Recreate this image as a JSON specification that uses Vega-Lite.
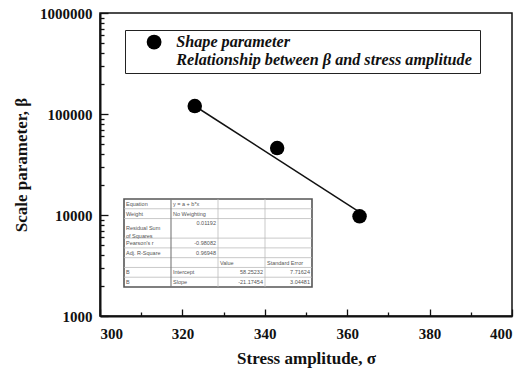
{
  "$schema": "https://vega.github.io/schema/vega-lite/v6.json",
  "width": 412,
  "height": 303,
  "autosize": "none",
  "padding": {"left": 100, "top": 13, "right": 14, "bottom": 52},
  "background": "white",
  "config": {
    "view": {"stroke": "#111", "strokeWidth": 1.5},
    "axis": {
      "grid": false,
      "domainColor": "#111",
      "domainWidth": 2,
      "tickColor": "#111",
      "tickWidth": 1.3,
      "labelFont": "Liberation Serif",
      "labelFontWeight": "bold",
      "labelFontSize": 15,
      "labelColor": "#111",
      "titleFont": "Liberation Serif",
      "titleFontWeight": "bold",
      "titleFontSize": 17,
      "titleColor": "#111"
    }
  },
  "datasets": {
    "obs": [
      {"sigma": 323, "beta": 120000, "series": "Shape parameter"},
      {"sigma": 343, "beta": 46000, "series": "Shape parameter"},
      {"sigma": 363, "beta": 9700, "series": "Shape parameter"}
    ],
    "fit": [
      {"sigma": 323, "beta": 120000},
      {"sigma": 363, "beta": 10700}
    ],
    "rowLines": [{"line": 1}, {"line": 2}, {"line": 4}, {"line": 5}, {"line": 6}, {"line": 7}, {"line": 8}],
    "colLines": [{"col": 2}, {"col": 3}],
    "keyLine": [{"col": 1}],
    "frame": [{"c0": 0, "c1": 4, "r0": 0, "r1": 9}],
    "tableLabels": [
      {"col": 0, "mid": 0.5, "label": "Equation"},
      {"col": 1, "mid": 0.5, "label": "y = a + b*x"},
      {"col": 0, "mid": 1.5, "label": "Weight"},
      {"col": 1, "mid": 1.5, "label": "No Weighting"},
      {"col": 0, "mid": 3, "label": "Residual Sum\nof Squares"},
      {"col": 0, "mid": 4.5, "label": "Pearson's r"},
      {"col": 0, "mid": 5.5, "label": "Adj. R-Square"},
      {"col": 2, "mid": 6.5, "label": "Value"},
      {"col": 3, "mid": 6.5, "label": "Standard Error"},
      {"col": 0, "mid": 7.5, "label": "B"},
      {"col": 1, "mid": 7.5, "label": "Intercept"},
      {"col": 0, "mid": 8.5, "label": "B"},
      {"col": 1, "mid": 8.5, "label": "Slope"}
    ],
    "tableNumbers": [
      {"col": 2, "mid": 2.5, "label": "0.01192"},
      {"col": 2, "mid": 4.5, "label": "-0.98082"},
      {"col": 2, "mid": 5.5, "label": "0.96948"},
      {"col": 3, "mid": 7.5, "label": "58.25232"},
      {"col": 4, "mid": 7.5, "label": "7.71624"},
      {"col": 3, "mid": 8.5, "label": "-21.17454"},
      {"col": 4, "mid": 8.5, "label": "3.04481"}
    ]
  },
  "layer": [
    {
      "layer": [
        {
          "data": {"name": "fit"},
          "mark": {"type": "line", "color": "#111", "strokeWidth": 1.5},
          "encoding": {
            "x": {
              "field": "sigma",
              "type": "quantitative",
              "scale": {"domain": [300, 400], "nice": false, "zero": false},
              "axis": {
                "values": [300, 310, 320, 330, 340, 350, 360, 370, 380, 390, 400],
                "labelExpr": "datum.value % 20 == 0 ? datum.label : ''",
                "tickSize": {"condition": {"test": "datum.value % 20 == 0", "value": -7}, "value": -4},
                "labelPadding": 17,
                "titlePadding": 9
              },
              "title": "Stress amplitude, σ"
            },
            "y": {
              "field": "beta",
              "type": "quantitative",
              "scale": {"type": "log", "domain": [1000, 1000000], "nice": false},
              "axis": {
                "values": [1000, 2000, 3000, 4000, 5000, 6000, 7000, 8000, 9000,
                           10000, 20000, 30000, 40000, 50000, 60000, 70000, 80000, 90000,
                           100000, 200000, 300000, 400000, 500000, 600000, 700000, 800000, 900000, 1000000],
                "format": "d",
                "labelExpr": "indexof([1000, 10000, 100000, 1000000], datum.value) >= 0 ? datum.label : ''",
                "tickSize": {"condition": {"test": "indexof([1000, 10000, 100000, 1000000], datum.value) >= 0", "value": -8}, "value": -4},
                "labelPadding": 16,
                "titlePadding": 9
              },
              "title": "Scale parameter, β"
            }
          }
        },
        {
          "data": {"name": "obs"},
          "mark": {"type": "point", "filled": true, "color": "#000", "opacity": 1, "size": 210},
          "encoding": {
            "x": {"field": "sigma", "type": "quantitative"},
            "y": {"field": "beta", "type": "quantitative"},
            "shape": {
              "field": "series",
              "type": "nominal",
              "scale": {
                "domain": ["Shape parameter", "Relationship between β  and stress amplitude"],
                "range": ["circle", "M0,0"]
              },
              "legend": {
                "title": null,
                "orient": "none",
                "legendX": 25,
                "legendY": 17,
                "strokeColor": "#222",
                "fillColor": "white",
                "padding": 4,
                "symbolOffset": 17,
                "symbolSize": 220,
                "symbolFillColor": "#000",
                "symbolStrokeColor": "#000",
                "symbolStrokeWidth": 0,
                "labelFont": "Liberation Serif",
                "labelFontStyle": "italic",
                "labelFontWeight": "bold",
                "labelFontSize": 16.2,
                "labelColor": "#111",
                "labelLimit": 0,
                "labelOffset": 14,
                "rowPadding": 1
              }
            }
          }
        }
      ]
    },
    {
      "layer": [
        {
          "data": {"name": "frame"},
          "mark": {"type": "rect", "fill": "white", "stroke": "#555", "strokeWidth": 1.6},
          "encoding": {
            "x": {"field": "c0", "type": "quantitative", "scale": {"domain": [0, 4], "range": [24, 212]}, "axis": null},
            "x2": {"field": "c1"},
            "y": {"field": "r0", "type": "quantitative", "scale": {"domain": [0, 9], "range": [186, 274]}, "axis": null},
            "y2": {"field": "r1"}
          }
        },
        {
          "data": {"name": "rowLines"},
          "mark": {"type": "rule", "color": "#bbb", "strokeWidth": 0.8},
          "encoding": {
            "y": {"field": "line", "type": "quantitative"},
            "x": {"datum": 0, "type": "quantitative"},
            "x2": {"datum": 4}
          }
        },
        {
          "data": {"name": "colLines"},
          "mark": {"type": "rule", "color": "#bbb", "strokeWidth": 0.8},
          "encoding": {
            "x": {"field": "col", "type": "quantitative"},
            "y": {"datum": 0, "type": "quantitative"},
            "y2": {"datum": 9}
          }
        },
        {
          "data": {"name": "keyLine"},
          "mark": {"type": "rule", "color": "#777", "strokeWidth": 1.1},
          "encoding": {
            "x": {"field": "col", "type": "quantitative"},
            "y": {"datum": 0, "type": "quantitative"},
            "y2": {"datum": 9}
          }
        },
        {
          "data": {"name": "tableLabels"},
          "mark": {"type": "text", "align": "left", "baseline": "middle", "dx": 2, "font": "Liberation Sans", "fontSize": 5.5, "color": "#555", "lineBreak": "\n", "lineHeight": 8},
          "encoding": {
            "x": {"field": "col", "type": "quantitative"},
            "y": {"field": "mid", "type": "quantitative"},
            "text": {"field": "label"}
          }
        },
        {
          "data": {"name": "tableNumbers"},
          "mark": {"type": "text", "align": "right", "baseline": "middle", "dx": -2, "font": "Liberation Sans", "fontSize": 5.5, "color": "#555"},
          "encoding": {
            "x": {"field": "col", "type": "quantitative"},
            "y": {"field": "mid", "type": "quantitative"},
            "text": {"field": "label"}
          }
        }
      ]
    }
  ],
  "resolve": {"scale": {"x": "independent", "y": "independent", "shape": "independent"}}
}
